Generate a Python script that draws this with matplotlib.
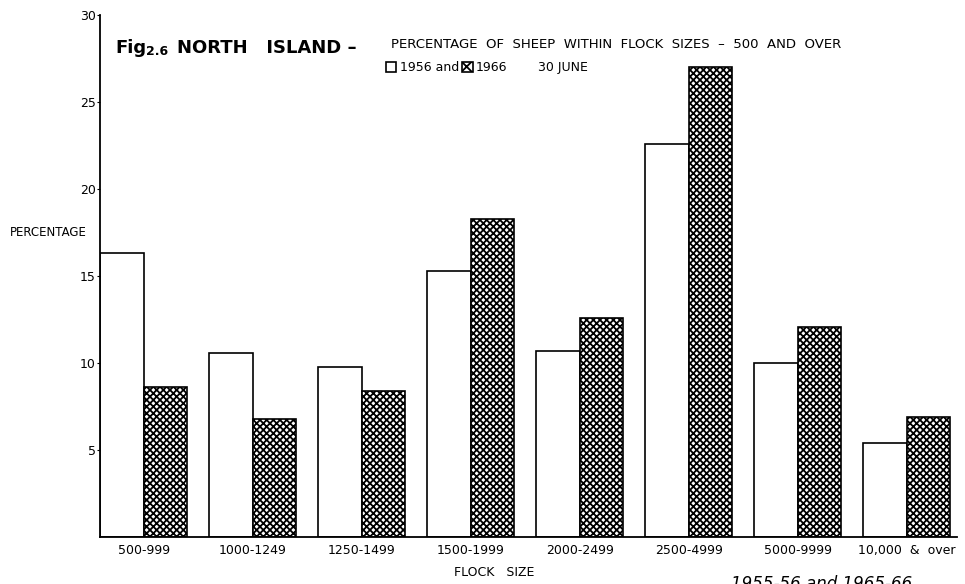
import matplotlib.pyplot as plt
import matplotlib.patches as mpatches
import numpy as np

plt.rcParams['hatch.linewidth'] = 1.3
plt.rcParams['font.family'] = ['Liberation Sans Narrow', 'DejaVu Sans']

FLOCK_SIZES = ['500-999', '1000-1249', '1250-1499', '1500-1999',
               '2000-2499', '2500-4999', '5000-9999', '10,000  &  over']
PCT_1956 = [16.3, 10.6, 9.8, 15.3, 10.7, 22.6, 10.0, 5.4]
PCT_1966 = [8.6, 6.8, 8.4, 18.3, 12.6, 27.0, 12.1, 6.9]
Y_TICKS = [5, 10, 15, 20, 25, 30]

fig = plt.figure(figsize=(9.65, 5.84), dpi=100)
ax = fig.add_axes([0.1036, 0.0805, 0.888, 0.8935])

x = np.arange(len(FLOCK_SIZES))
w = 0.4
ax.bar(x - w / 2, PCT_1956, w, color='white', edgecolor='black', linewidth=1.2)
ax.bar(x + w / 2, PCT_1966, w, color='white', edgecolor='black', linewidth=1.2,
       hatch='xxxxx')

ax.set_xlim(-0.4, 7.46)
ax.set_ylim(0, 30)
ax.spines['top'].set_visible(False)
ax.spines['right'].set_visible(False)
ax.spines['left'].set_linewidth(1.3)
ax.spines['bottom'].set_linewidth(1.3)
ax.set_yticks(Y_TICKS)
ax.set_yticklabels([str(t) for t in Y_TICKS], fontsize=9)
ax.tick_params(axis='y', length=2, pad=1)
ax.set_xticks(x)
ax.set_xticklabels(FLOCK_SIZES, fontsize=9)
ax.tick_params(axis='x', length=0, pad=5)

fig.text(0.01, 0.602, 'PERCENTAGE', fontsize=8.5, va='center')
fig.text(0.47, 0.02, 'FLOCK   SIZE', fontsize=9, va='center')

# title
fig.text(0.120, 0.917, 'Fig', fontsize=13, fontweight='bold', family='DejaVu Sans',
         va='center')
fig.text(0.151, 0.911, '2.6', fontsize=9, fontweight='bold', family='DejaVu Sans',
         va='center')
fig.text(0.183, 0.917, 'NORTH   ISLAND \u2013', fontsize=13, fontweight='bold',
         family='DejaVu Sans', va='center')
fig.text(0.405, 0.924, 'PERCENTAGE  OF  SHEEP  WITHIN  FLOCK  SIZES  \u2013  500  AND  OVER',
         fontsize=9.5, family='DejaVu Sans', va='center')

# legend line
fig.patches.append(mpatches.Rectangle((0.400, 0.876), 0.0105, 0.0175, facecolor='white',
                                      edgecolor='black', linewidth=1.2,
                                      transform=fig.transFigure, figure=fig))
fig.text(0.414, 0.884, '1956 and', fontsize=9, family='DejaVu Sans', va='center')
fig.patches.append(mpatches.Rectangle((0.479, 0.876), 0.011, 0.0175, facecolor='white',
                                      edgecolor='black', linewidth=1.2, hatch='xx',
                                      transform=fig.transFigure, figure=fig))
fig.text(0.493, 0.884, '1966', fontsize=9, family='DejaVu Sans', va='center')
fig.text(0.557, 0.884, '30 JUNE', fontsize=9, family='DejaVu Sans', va='center')

# handwritten note, cut off at the bottom edge of the scan
fig.text(0.758, 0.016, '1955-56 and 1965-66', fontsize=12, style='italic', va='top')

fig.savefig('out.png', dpi=100)
